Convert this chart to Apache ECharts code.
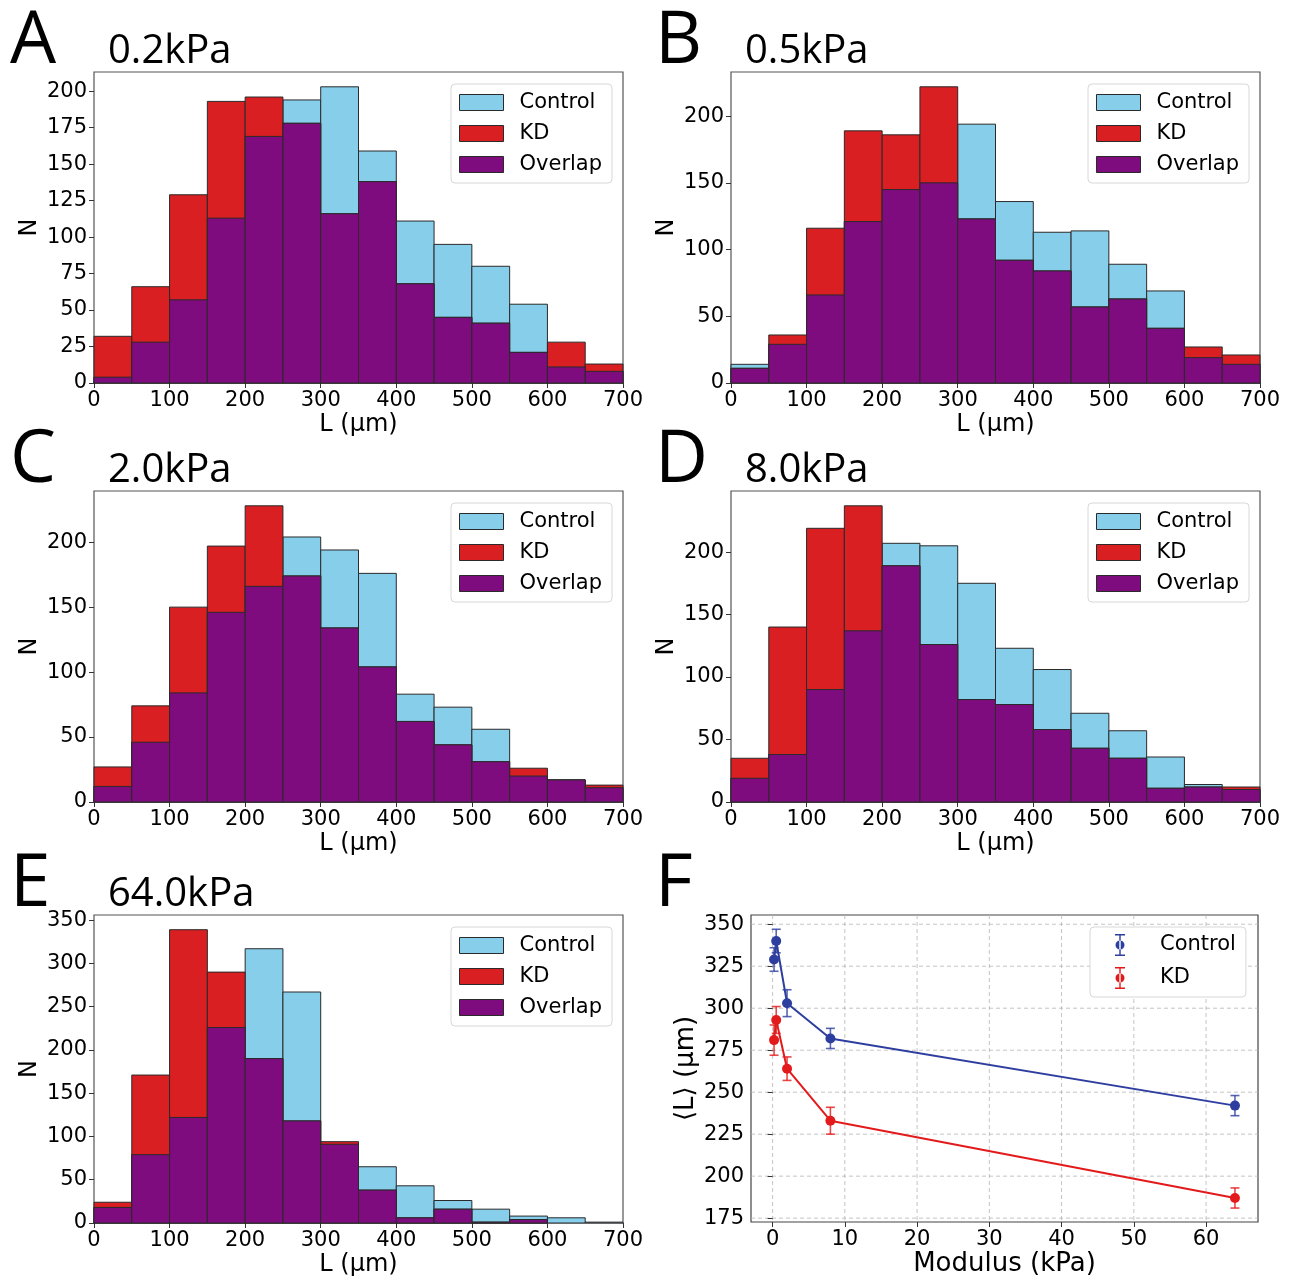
<!DOCTYPE html>
<html><head><meta charset="utf-8">
<script src="https://cdn.jsdelivr.net/npm/echarts@6/dist/echarts.min.js"></script>
<style>html,body{margin:0;padding:0;background:#fff}#c{width:1292px;height:1281px}</style>
</head><body><div id="c"></div>
<script>
// ---------- data ----------
const binEdges = [0,50,100,150,200,250,300,350,400,450,500,550,600,650,700];
const histTicksX = [0,100,200,300,400,500,600,700];
const panelLetters = ['A','B','C','D','E','F'];
const panelTitles = ['0.2kPa','0.5kPa','2.0kPa','8.0kPa','64.0kPa'];

const controlA = [4,28,57,113,169,194,203,159,111,95,80,54,11,8];
const kdA      = [32,66,129,193,196,178,116,138,68,45,41,21,28,13];
const controlB = [14,29,66,121,145,150,194,136,113,114,89,69,19,14];
const kdB      = [11,36,116,189,186,222,123,92,84,57,63,41,27,21];
const controlC = [12,46,84,146,166,204,194,176,83,73,56,20,17,11];
const kdC      = [27,74,150,197,228,174,134,104,62,44,31,26,17,13];
const controlD = [19,38,90,137,207,205,175,123,106,71,57,36,14,10];
const kdD      = [35,140,219,237,189,126,82,78,58,43,35,11,12,12];
const controlE = [18,79,122,226,317,267,91,65,43,26,16,8,6,1];
const kdE      = [24,171,339,290,190,118,94,38,6,16,1,4,0,0];

const yTicksA = [0,25,50,75,100,125,150,175,200];
const yTicks200 = [0,50,100,150,200];
const yTicksE = [0,50,100,150,200,250,300,350];
const yMaxes = [213.15, 233.1, 239.4, 248.85, 356];

const modulus = [0.2,0.5,2,8,64];
const meanControl = [329,340,303,282,242];
const errControl  = [7,7,8,6,6];
const meanKD = [281,293,264,233,187];
const errKD  = [9,8,7,8,6];
const fTicksX = [0,10,20,30,40,50,60];
const fTicksY = [175,200,225,250,275,300,325,350];
const fRangeX = [-2.99, 67.19];
const fRangeY = [172.7, 355.5];

// ---------- style ----------
const FONT = 'DejaVu Sans';
const TITLE_FONT = 'Open Sans';
const C_CTRL = '#87CEEB', C_KD = '#DA1F22', C_OV = '#7E0C7E';
const C_BLUE = '#2D3E9F', C_RED = '#E31A1C';
const EDGE = '#2a2a2a';

const histControl = [controlA, controlB, controlC, controlD, controlE];
const histKD = [kdA, kdB, kdC, kdD, kdE];
const histYTicks = [yTicksA, yTicks200, yTicks200, yTicks200, yTicksE];

const grids = [
  {left:94, top:72, width:529, height:311},
  {left:731, top:72, width:529, height:311},
  {left:94, top:491, width:529, height:311},
  {left:731, top:491, width:529, height:311},
  {left:94, top:915, width:529, height:308},
  {left:751, top:915, width:507, height:307}
];
const legendPos = [[451,84],[1088,84],[451,503],[1088,503],[451,927]];

const axisLabelStyle = {color:'#000', fontFamily:FONT, fontSize:21};

function histRender(color, z){
  return function(params, api){
    const h = api.value(2);
    if (!(h > 0)) return null;
    const p0 = api.coord([api.value(0), 0]);
    const p1 = api.coord([api.value(1), h]);
    return {type:'rect', z2:z,
      shape:{x:p0[0], y:p1[1], width:p1[0]-p0[0], height:p0[1]-p1[1]},
      style:{fill:color, stroke:EDGE, lineWidth:1}};
  };
}

const xAxes = [], yAxes = [], series = [], legends = [], graphics = [];

for (let i = 0; i < 5; i++) {
  xAxes.push({gridIndex:i, type:'value', min:0, max:700, interval:100,
    name:'L (μm)', nameLocation:'middle', nameGap:30,
    nameTextStyle:{fontFamily:FONT, fontSize:24, color:'#000'},
    axisLine:{show:false}, splitLine:{show:false},
    axisTick:{show:true, inside:false, length:5, lineStyle:{color:'#333'}},
    axisLabel:Object.assign({margin:7, showMaxLabel:true, showMinLabel:true}, axisLabelStyle)});
  yAxes.push({gridIndex:i, type:'value', min:0, max:yMaxes[i],
    name:'N', nameLocation:'middle', nameGap:52,
    nameTextStyle:{fontFamily:FONT, fontSize:24, color:'#000'},
    axisLine:{show:false}, splitLine:{show:false},
    axisTick:{show:true, inside:false, length:5, customValues:histYTicks[i], lineStyle:{color:'#333'}},
    axisLabel:Object.assign({margin:7, customValues:histYTicks[i]}, axisLabelStyle)});
  const ctrl = histControl[i], kd = histKD[i];
  const mk = arr => arr.map((v,j) => [binEdges[j], binEdges[j+1], v]);
  const ov = ctrl.map((v,j) => Math.min(v, kd[j]));
  [['Control', ctrl, C_CTRL, 2], ['KD', kd, C_KD, 3], ['Overlap', ov, C_OV, 4]].forEach(([name, arr, col, z]) => {
    series.push({type:'custom', name:name, xAxisIndex:i, yAxisIndex:i, z:z,
      itemStyle:{color:col}, encode:{x:[0,1], y:2},
      renderItem:histRender(col, z), data:mk(arr), silent:true});
  });
  legends.push({left:legendPos[i][0], top:legendPos[i][1], orient:'vertical',
    itemWidth:44, itemHeight:16, itemGap:10, padding:[8,10,8,8],
    backgroundColor:'#fff', borderColor:'#d8d8d8', borderWidth:1, borderRadius:4,
    selectedMode:false,
    textStyle:{fontFamily:FONT, fontSize:21, color:'#000', padding:[0,0,0,11]},
    data:[
      {name:'Control', icon:'rect', itemStyle:{color:C_CTRL, borderColor:EDGE, borderWidth:1}},
      {name:'KD', icon:'rect', itemStyle:{color:C_KD, borderColor:EDGE, borderWidth:1}},
      {name:'Overlap', icon:'rect', itemStyle:{color:C_OV, borderColor:EDGE, borderWidth:1}}
    ]});
}

// Panel F
xAxes.push({gridIndex:5, type:'value', min:fRangeX[0], max:fRangeX[1],
  name:'Modulus (kPa)', nameLocation:'middle', nameGap:29,
  nameTextStyle:{fontFamily:FONT, fontSize:26, color:'#000'},
  axisLine:{show:false}, splitLine:{show:false},
  axisTick:{show:true, inside:false, length:5, customValues:fTicksX, lineStyle:{color:'#333'}},
  axisLabel:Object.assign({margin:7, customValues:fTicksX}, axisLabelStyle)});
yAxes.push({gridIndex:5, type:'value', min:fRangeY[0], max:fRangeY[1],
  name:'⟨L⟩ (μm)', nameLocation:'middle', nameGap:52,
  nameTextStyle:{fontFamily:FONT, fontSize:26, color:'#000'},
  axisLine:{show:false}, splitLine:{show:false},
  axisTick:{show:true, inside:false, length:5, customValues:fTicksY, lineStyle:{color:'#333'}},
  axisLabel:Object.assign({margin:7, customValues:fTicksY}, axisLabelStyle)});

// gridlines for F
series.push({type:'custom', name:'gridX', xAxisIndex:5, yAxisIndex:5, z:0, silent:true,
  data:fTicksX.map(v => [v, fRangeY[0]]),
  renderItem:function(params, api){
    const cs = params.coordSys; const x = api.coord([api.value(0), api.value(1)])[0];
    return {type:'line', shape:{x1:x, y1:cs.y, x2:x, y2:cs.y+cs.height},
      style:{stroke:'#b5b5b5', lineWidth:0.8, lineDash:[4,3]}};
  }});
series.push({type:'custom', name:'gridY', xAxisIndex:5, yAxisIndex:5, z:0, silent:true,
  data:fTicksY.map(v => [0, v]),
  renderItem:function(params, api){
    const cs = params.coordSys; const y = api.coord([api.value(0), api.value(1)])[1];
    return {type:'line', shape:{x1:cs.x, y1:y, x2:cs.x+cs.width, y2:y},
      style:{stroke:'#b5b5b5', lineWidth:0.8, lineDash:[4,3]}};
  }});

function errRender(color){
  return function(params, api){
    const x = api.value(0), y = api.value(1), e = api.value(2);
    const pt = api.coord([x, y + e]), pb = api.coord([x, y - e]);
    const cap = 4.5;
    const st = {stroke:color, lineWidth:1.6, opacity:0.8};
    return {type:'group', children:[
      {type:'line', shape:{x1:pt[0], y1:pt[1], x2:pb[0], y2:pb[1]}, style:st},
      {type:'line', shape:{x1:pt[0]-cap, y1:pt[1], x2:pt[0]+cap, y2:pt[1]}, style:st},
      {type:'line', shape:{x1:pb[0]-cap, y1:pb[1], x2:pb[0]+cap, y2:pb[1]}, style:st}
    ]};
  };
}
series.push({type:'custom', name:'errControl', xAxisIndex:5, yAxisIndex:5, z:3, silent:true,
  data:modulus.map((m,i) => [m, meanControl[i], errControl[i]]), renderItem:errRender(C_BLUE)});
series.push({type:'custom', name:'errKD', xAxisIndex:5, yAxisIndex:5, z:3, silent:true,
  data:modulus.map((m,i) => [m, meanKD[i], errKD[i]]), renderItem:errRender(C_RED)});
series.push({type:'line', name:'Control (F)', xAxisIndex:5, yAxisIndex:5, z:4,
  data:modulus.map((m,i) => [m, meanControl[i]]), symbol:'circle', symbolSize:10,
  itemStyle:{color:C_BLUE}, lineStyle:{color:C_BLUE, width:2}});
series.push({type:'line', name:'KD (F)', xAxisIndex:5, yAxisIndex:5, z:4,
  data:modulus.map((m,i) => [m, meanKD[i]]), symbol:'circle', symbolSize:10,
  itemStyle:{color:C_RED}, lineStyle:{color:C_RED, width:2}});

const errIcon = 'path://M0,0 H10 V1.5 H0 Z M4.3,0 H5.7 V22 H4.3 Z M0,20.5 H10 V22 H0 Z M0.5,11 A4.5,4.5 0 1,0 9.5,11 A4.5,4.5 0 1,0 0.5,11 Z';
legends.push({left:1090, top:927, orient:'vertical', itemWidth:10, itemHeight:22, itemGap:11,
  padding:[7,10,8,25], backgroundColor:'#fff', borderColor:'#d8d8d8', borderWidth:1, borderRadius:4,
  selectedMode:false,
  formatter:n => n.replace(' (F)',''),
  textStyle:{fontFamily:FONT, fontSize:21, color:'#000', padding:[0,0,0,30]},
  data:[
    {name:'Control (F)', icon:errIcon, itemStyle:{color:C_BLUE, borderWidth:0}},
    {name:'KD (F)', icon:errIcon, itemStyle:{color:C_RED, borderWidth:0}}
  ]});

// panel letters and titles
const letterPos = [[10,63],[655,63],[10,482],[655,482],[10,906],[655,906]];
const titlePos = [[108,63],[745,63],[108,482],[745,482],[108,906]];
panelLetters.forEach((t,i) => {
  graphics.push({type:'text', x:letterPos[i][0], y:letterPos[i][1] - 0.285*73,
    style:{text:t, fontFamily:TITLE_FONT, fontSize:73, fill:'#000', align:'left', verticalAlign:'middle'}});
});
panelTitles.forEach((t,i) => {
  graphics.push({type:'text', x:titlePos[i][0], y:titlePos[i][1] - 0.285*40,
    style:{text:t, fontFamily:TITLE_FONT, fontSize:40, fill:'#000', align:'left', verticalAlign:'middle'}});
});

const option = {
  animation:false,
  backgroundColor:'#fff',
  grid:grids.map((g,i) => Object.assign({show:true, borderColor: i===5 ? '#444' : '#555', borderWidth:1.2, backgroundColor:'transparent'}, g)),
  xAxis:xAxes, yAxis:yAxes, series:series, legend:legends, graphic:graphics
};
const chart = echarts.init(document.getElementById('c'), null, {renderer:'canvas'});
chart.setOption(option);
</script></body></html>
